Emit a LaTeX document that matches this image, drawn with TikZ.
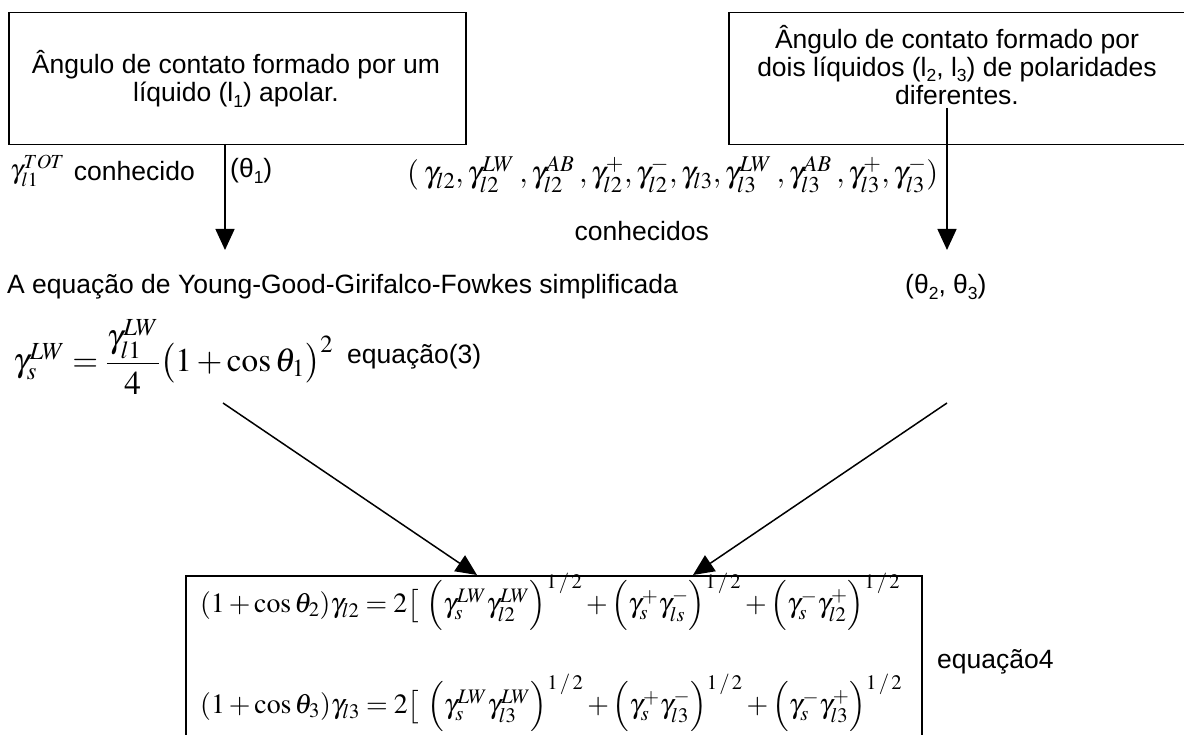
\documentclass[tikz,border=0pt]{standalone}
\usepackage{amsmath}
\usepackage{mathptmx}
\usepackage{graphicx}
\usepackage{fontspec}
\setmainfont{Liberation Sans}
\usetikzlibrary{arrows.meta}
\newcommand\txtfs{\fontsize{26.5}{28}\selectfont}
\newcommand\mfs{\fontsize{27}{30}\selectfont}
\newcommand\tsb[1]{\raisebox{-0.2em}{\fontsize{17.5}{18}\selectfont #1}}
\tikzset{
  boxline/.style={draw, line width=1.5pt, inner sep=0pt, anchor=north west},
  lbl/.style={inner sep=0pt, align=center, font=\txtfs},
  mlbl/.style={inner sep=0pt, font=\mfs},
  arr/.style={-{Triangle[length=21pt,width=19pt]}, line width=1.5pt},
}
\begin{document}
\begin{tikzpicture}[x=1pt,y=-1pt]
\useasboundingbox[fill=white] (0,0) rectangle (1184,735);
% boxes
\node[boxline, minimum width=457pt, minimum height=132pt] (box1) at (8,12) {};
\node[boxline, minimum width=462pt, minimum height=132pt] (box2) at (728,12) {};
\node[boxline, minimum width=736pt, minimum height=175pt] (box3) at (185,575) {};
% box texts
\node[lbl] (t1) at (236,79) {Ângulo de contato formado por um\\líquido (l\tsb{1}) apolar.};
\node[lbl] (t2) at (957,65) {Ângulo de contato formado por\\dois líquidos (l\tsb{2}, l\tsb{3}) de polaridades\\diferentes.};
% row under boxes
\node[mlbl, anchor=west] (tot) at (10,171) {$\gamma_{l1}^{TOT}$};
\node[lbl, anchor=east] (conh1) at (195,171) {conhecido};
\node[lbl, anchor=west] (th1) at (230,171) {(θ\tsb{1})};
\node[mlbl, anchor=west] (glist) at (407,175) {\resizebox{531pt}{!}{$(\hspace{0.15em}\gamma_{l2},\gamma_{l2}^{LW}\hspace{0.15em},\gamma_{l2}^{AB}\hspace{0.15em},\gamma_{l2}^{+},\gamma_{l2}^{-},\gamma_{l3},\gamma_{l3}^{LW}\hspace{0.15em},\gamma_{l3}^{AB}\hspace{0.15em},\gamma_{l3}^{+},\gamma_{l3}^{-})$}};
\node[lbl, anchor=east] (conh) at (709,231) {conhecidos};
\node[lbl, anchor=west] (yggf) at (7,287) {A equação de Young-Good-Girifalco-Fowkes simplificada};
\node[lbl, anchor=west] (th23) at (905,287) {(θ\tsb{2}, θ\tsb{3})};
% equation 3
\node[mlbl, anchor=west] (eq3) at (13,357) {\resizebox{320pt}{!}{$\gamma_s^{LW} = \dfrac{\gamma_{l1}^{LW}}{4}\bigl(1+\cos\theta_1\bigr)^2$}};
\node[lbl, anchor=west] (eq3t) at (347,357) {equação(3)};
% equation 4
\node[mlbl, anchor=west] (eq4a) at (200,602) {\resizebox{700pt}{!}{$(1+\cos\theta_2)\gamma_{l2} = 2\bigl[\ \Bigl(\gamma_s^{LW}\gamma_{l2}^{LW}\Bigr)^{1\,/\,2} + \Bigl(\gamma_s^{+}\gamma_{ls}^{-}\Bigr)^{1\,/\,2} + \Bigl(\gamma_s^{-}\gamma_{l2}^{+}\Bigr)^{1\,/\,2}$}};
\node[mlbl, anchor=west] (eq4b) at (200,703) {\resizebox{702pt}{!}{$(1+\cos\theta_3)\gamma_{l3} = 2\bigl[\ \Bigl(\gamma_s^{LW}\gamma_{l3}^{LW}\Bigr)^{1\,/\,2} + \Bigl(\gamma_s^{+}\gamma_{l3}^{-}\Bigr)^{1\,/\,2} + \Bigl(\gamma_s^{-}\gamma_{l3}^{+}\Bigr)^{1\,/\,2}$}};
\node[lbl, anchor=west] (eq4t) at (937,662) {equação4};
% arrows
\coordinate (a1s) at (225,144);
\coordinate (a1e) at (225,250);
\coordinate (a2s) at (947,108);
\coordinate (a2e) at (947,250);
\coordinate (d1s) at (223,403);
\coordinate (d1e) at (477,575);
\coordinate (d2s) at (947,403);
\coordinate (d2e) at (693,575);
\draw[arr] (a1s) -- (a1e);
\draw[arr] (a2s) -- (a2e);
\draw[arr] (d1s) -- (d1e);
\draw[arr] (d2s) -- (d2e);
\end{tikzpicture}
\end{document}
